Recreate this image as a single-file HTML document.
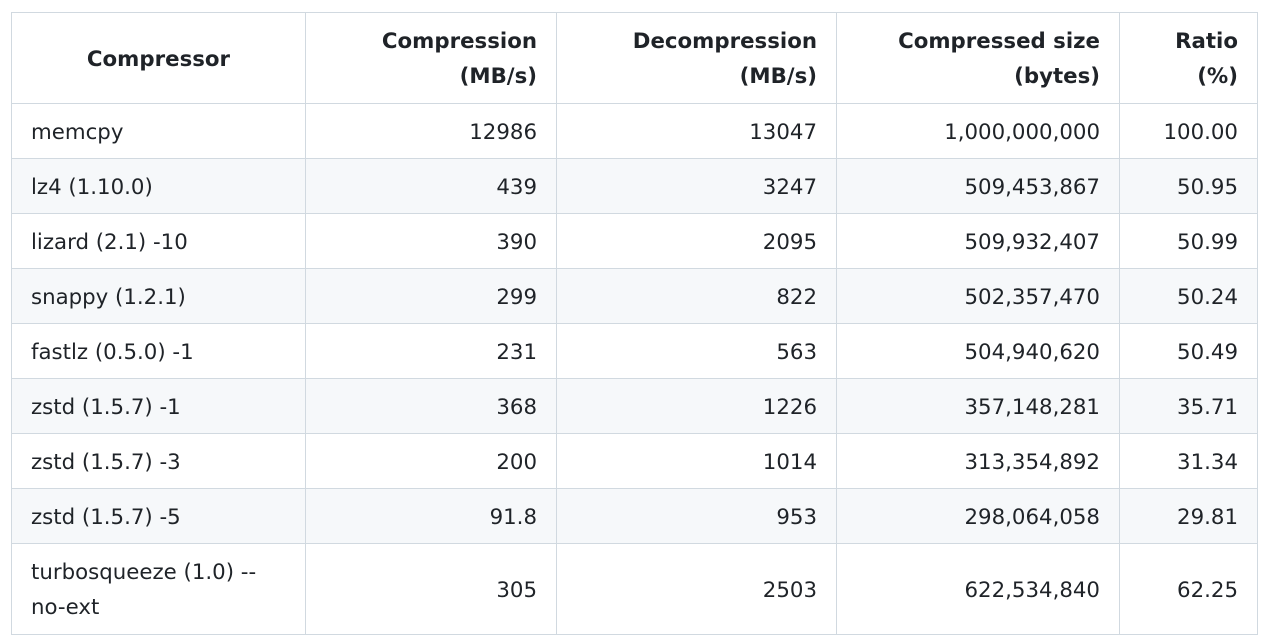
<!DOCTYPE html>
<html><head><meta charset="utf-8"><style>
html,body{margin:0;padding:0;background:#fff;width:1266px;height:644px;overflow:hidden}
table{position:absolute;left:11px;top:12px;border-collapse:collapse;table-layout:fixed;width:1246px;
font-family:"DejaVu Sans","Liberation Sans",sans-serif;font-size:21.3px;color:#1f2328}
td,th{border:1px solid #d1d9e0;padding:2px 19px 0 19px;text-align:right;height:52px;line-height:35px}
th{font-weight:bold;height:88px}
th:first-child{text-align:center}
td:first-child{text-align:left}
tbody tr:nth-child(even){background:#f6f8fa}
tr.last td{height:88px}
</style></head><body>
<table>
<colgroup><col style="width:294px"><col style="width:251px"><col style="width:280px"><col style="width:283px"><col style="width:138px"></colgroup>
<thead><tr><th>Compressor</th><th>Compression<br>(MB/s)</th><th>Decompression<br>(MB/s)</th><th>Compressed size<br>(bytes)</th><th>Ratio<br>(%)</th></tr></thead>
<tbody>
<tr><td>memcpy</td><td>12986</td><td>13047</td><td>1,000,000,000</td><td>100.00</td></tr>
<tr><td>lz4 (1.10.0)</td><td>439</td><td>3247</td><td>509,453,867</td><td>50.95</td></tr>
<tr><td>lizard (2.1) -10</td><td>390</td><td>2095</td><td>509,932,407</td><td>50.99</td></tr>
<tr><td>snappy (1.2.1)</td><td>299</td><td>822</td><td>502,357,470</td><td>50.24</td></tr>
<tr><td>fastlz (0.5.0) -1</td><td>231</td><td>563</td><td>504,940,620</td><td>50.49</td></tr>
<tr><td>zstd (1.5.7) -1</td><td>368</td><td>1226</td><td>357,148,281</td><td>35.71</td></tr>
<tr><td>zstd (1.5.7) -3</td><td>200</td><td>1014</td><td>313,354,892</td><td>31.34</td></tr>
<tr><td>zstd (1.5.7) -5</td><td>91.8</td><td>953</td><td>298,064,058</td><td>29.81</td></tr>
<tr class="last"><td>turbosqueeze (1.0) --<br>no-ext</td><td>305</td><td>2503</td><td>622,534,840</td><td>62.25</td></tr>
</tbody></table>
</body></html>
